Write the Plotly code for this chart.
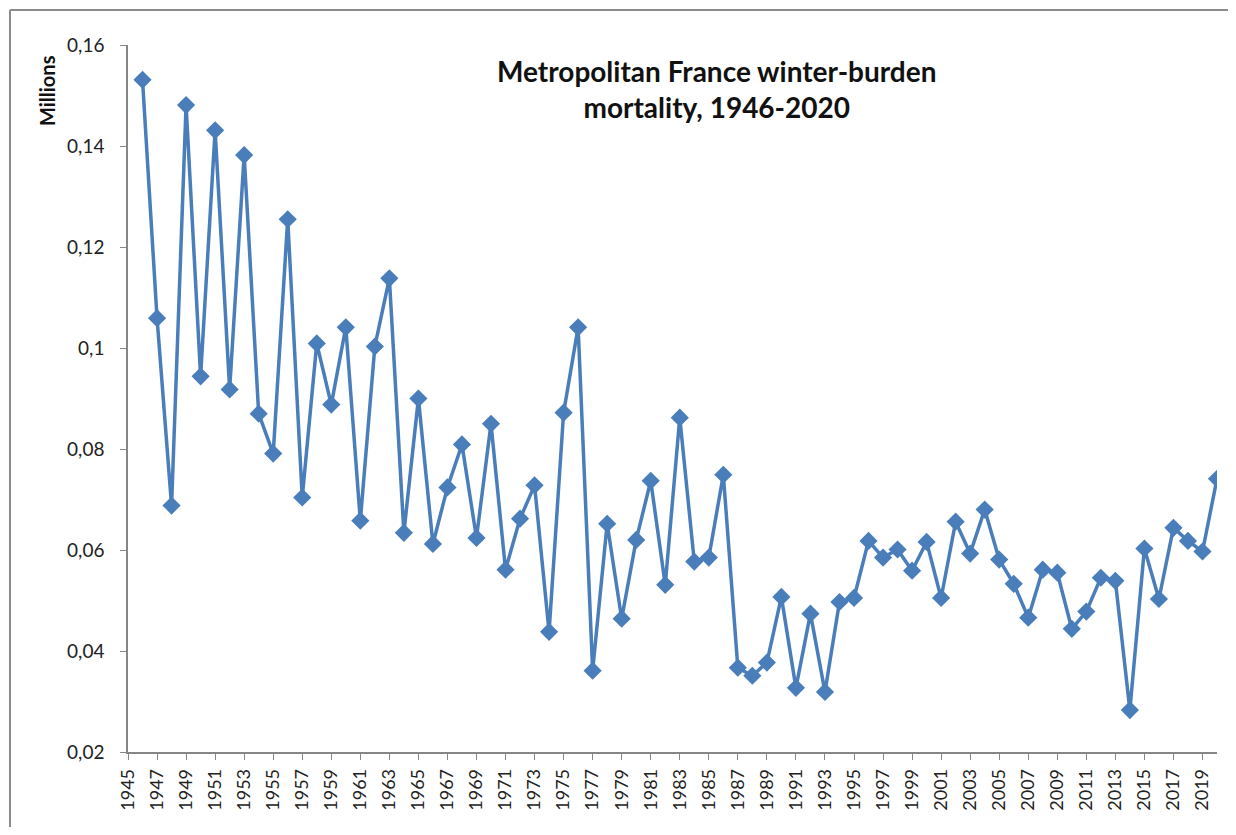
import plotly.graph_objects as go

years = list(range(1946, 2021))
values = [
    0.1531, 0.1059, 0.0688, 0.1481, 0.0944, 0.1431, 0.0918, 0.1382, 0.0870, 0.0791,
    0.1255, 0.0704, 0.1009, 0.0888, 0.1041, 0.0658, 0.1003, 0.1138, 0.0634, 0.0900,
    0.0612, 0.0724, 0.0809, 0.0624, 0.0850, 0.0561, 0.0662, 0.0728, 0.0438, 0.0872,
    0.1041, 0.0361, 0.0652, 0.0464, 0.0620, 0.0737, 0.0531, 0.0862, 0.0577, 0.0585,
    0.0749, 0.0367, 0.0351, 0.0377, 0.0507, 0.0327, 0.0474, 0.0319, 0.0497, 0.0505,
    0.0618, 0.0585, 0.0601, 0.0559, 0.0616, 0.0505, 0.0656, 0.0593, 0.0680, 0.0581,
    0.0533, 0.0466, 0.0561, 0.0555, 0.0444, 0.0478, 0.0545, 0.0539, 0.0283, 0.0603,
    0.0503, 0.0644, 0.0618, 0.0597, 0.0741,
]

x_tickvals = list(range(1945, 2020, 2))
x_ticktext = [str(v) for v in x_tickvals]
y_tickvals = [0.02, 0.04, 0.06, 0.08, 0.10, 0.12, 0.14, 0.16]
y_ticktext = ["0,02", "0,04", "0,06", "0,08", "0,1", "0,12", "0,14", "0,16"]

title_text = "Metropolitan France winter-burden<br>mortality, 1946-2020"
unit_label = "Millions"

# page has an 8px body margin; work in page pixel coordinates
OFF = 8
W, H = 1236 - 2 * OFF, 835 - 2 * OFF
L, R, T, B = 128 - OFF, 1217 - OFF, 45 - OFF, 752 - OFF
pw, ph = R - L, B - T

def px(x):
    return (x - OFF - L) / pw

def py(y):
    return (B - (y - OFF)) / ph

blue = "#4A7EBB"
grey = "#868686"
font_family = "Lato, 'Open Sans', sans-serif"

fig = go.Figure()
fig.add_trace(go.Scatter(
    x=years, y=values, mode="lines+markers",
    line=dict(color=blue, width=3.5),
    marker=dict(symbol="diamond", size=14, color=blue),
    showlegend=False,
))

border = dict(color="#8c8c8c", width=2)

fig.update_layout(
    width=W, height=H,
    margin=dict(l=L, r=W - R, t=T, b=H - B),
    paper_bgcolor="white", plot_bgcolor="white",
    font=dict(family=font_family, color="#222222"),
    xaxis=dict(
        range=[1945, 2020], tickvals=x_tickvals, ticktext=x_ticktext,
        tickangle=-90, showgrid=False, zeroline=False,
        showline=True, linecolor=grey, linewidth=1.5,
        ticks="outside", ticklen=6, tickcolor=grey, tickwidth=1,
        tickfont=dict(size=18, family=font_family, color="#222222"),
        ticklabelstandoff=2,
    ),
    yaxis=dict(
        range=[0.02, 0.16], tickvals=y_tickvals, ticktext=y_ticktext,
        showgrid=False, zeroline=False,
        showline=True, linecolor=grey, linewidth=1.5,
        ticks="outside", ticklen=6, tickcolor=grey, tickwidth=1,
        tickfont=dict(size=19, family=font_family, color="#222222"),
        ticklabelstandoff=12,
    ),
    annotations=[
        dict(text="<b>" + title_text + "</b>", x=px(717), y=py(89),
             xref="paper", yref="paper", showarrow=False,
             xanchor="center", yanchor="middle",
             font=dict(size=28, family=font_family, color="#111111")),
        dict(text="<b>" + unit_label + "</b>", x=px(47), y=py(91),
             xref="paper", yref="paper", showarrow=False, textangle=-90,
             xanchor="center", yanchor="middle",
             font=dict(size=20, family=font_family, color="#111111")),
    ],
    shapes=[
        dict(type="line", xref="paper", yref="paper",
             x0=px(10), x1=px(1236), y0=py(10), y1=py(10), line=border),
        dict(type="line", xref="paper", yref="paper",
             x0=px(10), x1=px(10), y0=py(10), y1=py(835), line=border),
    ],
)

fig.write_html("out.html")
